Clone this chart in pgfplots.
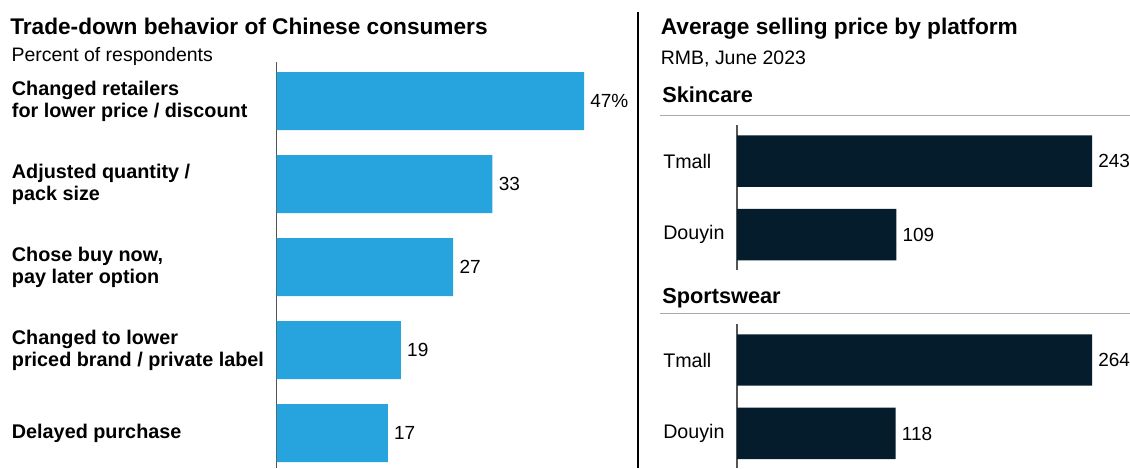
\documentclass[border=0pt]{standalone}
\usepackage{pgfplots}
\pgfplotsset{compat=1.18}
\usepackage{fontspec}
\setmainfont{Liberation Sans}
\definecolor{barblue}{HTML}{27A3DD}
\definecolor{navy}{HTML}{051C2C}
\definecolor{axgray}{HTML}{555555}
\definecolor{rulegray}{HTML}{A8A8A8}
\pgfplotsset{
  panel/.style={
    anchor=north west, scale only axis, xbar, xmin=0,
    y dir=reverse, axis x line=none, axis y line*=left,
    y axis line style={axgray, line width=1pt, -},
    major tick length=0pt, ytick style={draw=none},
    nodes near coords, point meta=explicit symbolic,
    nodes near coords style={anchor=west, inner sep=0pt, font=\fontsize{14.25}{16}\selectfont, text=black},
    clip=false,
  }
}
\begin{document}
\begin{tikzpicture}
\useasboundingbox (0,0) rectangle (847.5pt,-351pt);
% ---------- left panel
\node[anchor=base west, inner sep=0pt, font=\bfseries\fontsize{17}{19}\selectfont] at (7.5pt,-25.7pt) {Trade-down behavior of Chinese consumers};
\node[anchor=base west, inner sep=0pt, font=\fontsize{14.6}{16}\selectfont] at (8.5pt,-45.75pt) {Percent of respondents};
\begin{axis}[panel,
  at={(207.5pt,-46.5pt)},
  width=245.25pt, height=304.5pt,
  bar width=43.5pt,
  xmax=50, ymin=-0.47, ymax=4.42,
  ytick={0,1,2,3,4},
  yticklabels={{Changed retailers\\for lower price / discount},{Adjusted quantity /\\pack size},{Chose buy now,\\pay later option},{Changed to lower\\priced brand / private label},{Delayed purchase}},
  yticklabel style={anchor=west, align=left, inner sep=0pt, xshift=-198.75pt, font=\bfseries\fontsize{14.85}{16.3}\selectfont},
  nodes near coords style={xshift=4.5pt},
]
\addplot[fill=barblue, draw=none] coordinates {(47,0) [47\%] (33,1) [33] (27,2) [27] (19,3) [19] (17,4) [17]};
\end{axis}
% divider
\draw[black, line width=1.5pt] (478.5pt,-9pt) -- (478.5pt,-351pt);
% ---------- right panel
\node[anchor=base west, inner sep=0pt, font=\bfseries\fontsize{17}{19}\selectfont] at (495.5pt,-25.7pt) {Average selling price by platform};
\node[anchor=base west, inner sep=0pt, font=\fontsize{14.6}{16}\selectfont] at (495.5pt,-48.2pt) {RMB, June 2023};
\node[anchor=base west, inner sep=0pt, font=\bfseries\fontsize{16.3}{19}\selectfont] at (496.5pt,-77pt) {Skincare};
\draw[rulegray, line width=0.75pt] (495pt,-86.25pt) -- (847.5pt,-86.25pt);
\node[anchor=base west, inner sep=0pt, font=\bfseries\fontsize{16.3}{19}\selectfont] at (496.5pt,-227.25pt) {Sportswear};
\draw[rulegray, line width=0.75pt] (495pt,-234.75pt) -- (847.5pt,-234.75pt);
\begin{axis}[panel,
  at={(552.75pt,-93.75pt)},
  width=266.25pt, height=108.75pt,
  bar width=38.6pt,
  xmax=243, ymin=-0.49, ymax=1.48,
  ytick={0,1}, yticklabels={Tmall,Douyin},
  yticklabel style={anchor=west, inner sep=0pt, xshift=-55.5pt, font=\fontsize{14.75}{16}\selectfont},
  nodes near coords style={xshift=4.5pt},
]
\addplot[fill=navy, draw=none] coordinates {(243,0) [243] (109,1) [109]};
\end{axis}
\begin{axis}[panel,
  at={(552.75pt,-243pt)},
  width=266.25pt, height=108pt,
  bar width=38.6pt,
  xmax=264, ymin=-0.49, ymax=1.47,
  ytick={0,1}, yticklabels={Tmall,Douyin},
  yticklabel style={anchor=west, inner sep=0pt, xshift=-55.5pt, font=\fontsize{14.75}{16}\selectfont},
  nodes near coords style={xshift=4.5pt},
]
\addplot[fill=navy, draw=none] coordinates {(264,0) [264] (118,1) [118]};
\end{axis}
\end{tikzpicture}
\end{document}
